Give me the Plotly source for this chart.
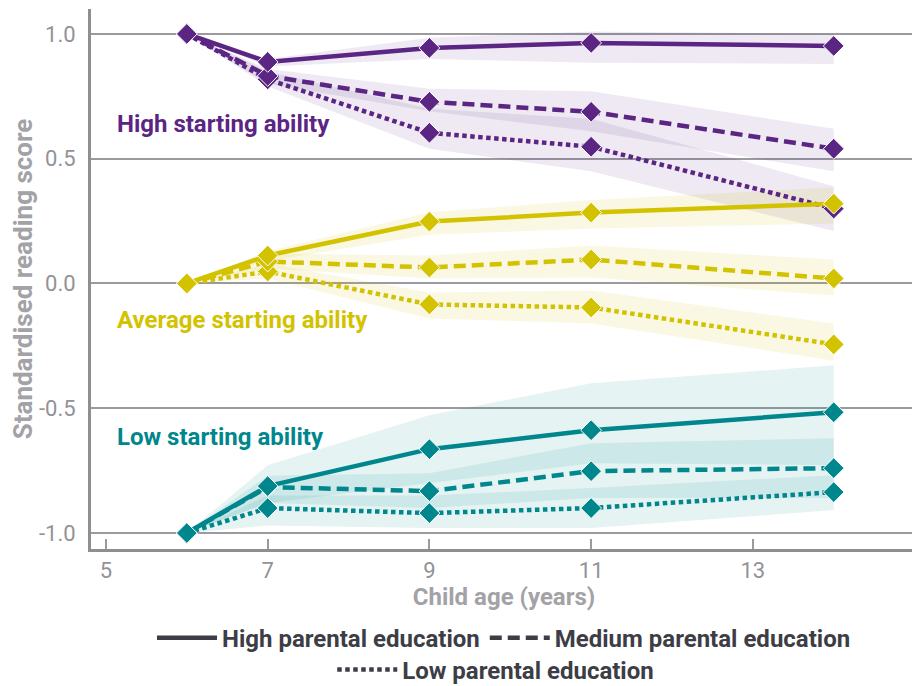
import plotly.graph_objects as go

ages = [6, 7, 9, 11, 14]

# High starting ability (purple)
high_hi = [1.0, 0.888, 0.944, 0.964, 0.952]
high_med = [1.0, 0.832, 0.728, 0.688, 0.540]
high_lo = [1.0, 0.818, 0.604, 0.548, 0.300]
high_hi_lb = [1.0, 0.870, 0.900, 0.885, 0.880]
high_hi_ub = [1.0, 0.900, 0.985, 1.010, 1.000]
high_med_lb = [1.0, 0.800, 0.690, 0.610, 0.450]
high_med_ub = [1.0, 0.860, 0.780, 0.770, 0.620]
high_lo_lb = [1.0, 0.790, 0.540, 0.450, 0.210]
high_lo_ub = [1.0, 0.850, 0.700, 0.660, 0.390]

# Average starting ability (yellow)
avg_hi = [0.0, 0.112, 0.248, 0.284, 0.320]
avg_med = [0.0, 0.088, 0.064, 0.096, 0.020]
avg_lo = [0.0, 0.048, -0.084, -0.096, -0.244]
avg_hi_lb = [0.0, 0.090, 0.195, 0.220, 0.240]
avg_hi_ub = [0.0, 0.130, 0.285, 0.335, 0.385]
avg_med_lb = [0.0, 0.060, 0.020, 0.024, -0.048]
avg_med_ub = [0.0, 0.120, 0.112, 0.152, 0.096]
avg_lo_lb = [0.0, 0.020, -0.140, -0.160, -0.310]
avg_lo_ub = [0.0, 0.080, -0.036, -0.028, -0.160]

# Low starting ability (teal)
low_hi = [-1.0, -0.812, -0.664, -0.588, -0.516]
low_med = [-1.0, -0.816, -0.832, -0.752, -0.740]
low_lo = [-1.0, -0.900, -0.920, -0.900, -0.836]
low_hi_lb = [-1.0, -0.880, -0.800, -0.720, -0.728]
low_hi_ub = [-1.0, -0.728, -0.528, -0.400, -0.328]
low_med_lb = [-1.0, -0.880, -0.900, -0.860, -0.860]
low_med_ub = [-1.0, -0.770, -0.760, -0.640, -0.620]
low_lo_lb = [-1.0, -0.970, -0.980, -0.980, -0.908]
low_lo_ub = [-1.0, -0.850, -0.850, -0.820, -0.768]

x_ticks = [5, 7, 9, 11, 13, 15]
x_ticktext = ["5", "7", "9", "11", "13", ""]
y_ticks = [-1.0, -0.5, 0.0, 0.5, 1.0]
y_ticktext = ["-1.0", "-0.5", "0.0", "0.5", "1.0"]

group_labels = ["High starting ability", "Average starting ability", "Low starting ability"]
edu_labels = ["High parental education", "Medium parental education", "Low parental education"]

PURPLE = "#5b2584"
YELLOW = "#d3c200"
TEAL = "#00868d"
BANDS = {PURPLE: "rgba(91,37,132,0.10)", YELLOW: "rgba(211,194,0,0.11)", TEAL: "rgba(0,134,141,0.10)"}
DASHES = ["solid", "12px,6px", "4.5px,3.5px"]
FONT = "Roboto, 'Open Sans', sans-serif"

groups = [
    (PURPLE, [(high_hi, high_hi_lb, high_hi_ub), (high_med, high_med_lb, high_med_ub), (high_lo, high_lo_lb, high_lo_ub)]),
    (YELLOW, [(avg_hi, avg_hi_lb, avg_hi_ub), (avg_med, avg_med_lb, avg_med_ub), (avg_lo, avg_lo_lb, avg_lo_ub)]),
    (TEAL, [(low_hi, low_hi_lb, low_hi_ub), (low_med, low_med_lb, low_med_ub), (low_lo, low_lo_lb, low_lo_ub)]),
]

fig = go.Figure()

# Confidence bands first
for color, series in groups:
    for vals, lb, ub in series:
        fig.add_trace(go.Scatter(
            x=ages + ages[::-1], y=ub + lb[::-1],
            fill="toself", fillcolor=BANDS[color], line=dict(width=0),
            mode="lines", hoverinfo="skip", showlegend=False))

# Lines with markers
for color, series in groups:
    for (vals, lb, ub), dash in zip(series[::-1], DASHES[::-1]):
        fig.add_trace(go.Scatter(
            x=ages, y=vals, mode="lines+markers",
            line=dict(color=color, width=4.5, dash=dash),
            marker=dict(symbol="diamond", size=16, color=color, line=dict(color="white", width=1)),
            showlegend=False))

# Legend entries
LEG = "#3d3d45"
for i, (lab, dash) in enumerate(zip(edu_labels, DASHES)):
    fig.add_trace(go.Scatter(
        x=[None], y=[None], mode="lines", name="<b>" + lab + "</b>",
        line=dict(color=LEG, width=4.5, dash=dash),
        legend="legend" if i < 2 else "legend2"))

label_y = [0.64, -0.148, -0.616]
for lab, col, yy in zip(group_labels, [PURPLE, YELLOW, TEAL], label_y):
    fig.add_annotation(
        x=0.029, xref="paper", y=yy, yref="y", text="<b>" + lab + "</b>",
        showarrow=False, xanchor="left", yanchor="middle",
        font=dict(family=FONT, size=24, color=col))

GRAY = "#9a9a9f"
# the page body adds an 8px offset, so the figure is sized to fill the rest of the window
fig.update_layout(
    width=912, height=678,
    margin=dict(l=83, r=3, t=1, b=137, autoexpand=False),
    paper_bgcolor="white", plot_bgcolor="white",
    font=dict(family=FONT),
    xaxis=dict(
        range=[4.815, 15.03], tickvals=x_ticks, ticktext=x_ticktext,
        showgrid=False, zeroline=False, automargin=False,
        showline=True, linecolor="#8e8e93", linewidth=3,
        ticks="inside", ticklen=10, tickwidth=1.5, tickcolor="#9a9a9f",
        tickfont=dict(family=FONT, size=22, color="#929297"),
        title=dict(text="<b>Child age (years)</b>", font=dict(family=FONT, size=24, color="#a2a2a7"), standoff=6),
    ),
    yaxis=dict(
        range=[-1.064, 1.1], tickvals=y_ticks, ticktext=y_ticktext,
        showgrid=True, gridcolor=GRAY, gridwidth=1.5, zeroline=False, automargin=False,
        showline=True, linecolor="#8e8e93", linewidth=3,
        ticks="", ticklabelstandoff=8,
        tickfont=dict(family=FONT, size=22, color="#929297"),
        title=dict(text="<b>Standardised reading score</b>", font=dict(family=FONT, size=26, color="#a2a2a7"), standoff=4),
    ),
    legend=dict(
        orientation="h", x=0.5, xanchor="center", y=-0.165, yanchor="middle",
        font=dict(family=FONT, size=24, color=LEG), bgcolor="rgba(0,0,0,0)",
        itemwidth=60, tracegroupgap=0),
    legend2=dict(
        orientation="h", x=0.49, xanchor="center", y=-0.224, yanchor="middle",
        font=dict(family=FONT, size=24, color=LEG), bgcolor="rgba(0,0,0,0)",
        itemwidth=60),
    showlegend=True,
)

fig.write_html("out.html")
